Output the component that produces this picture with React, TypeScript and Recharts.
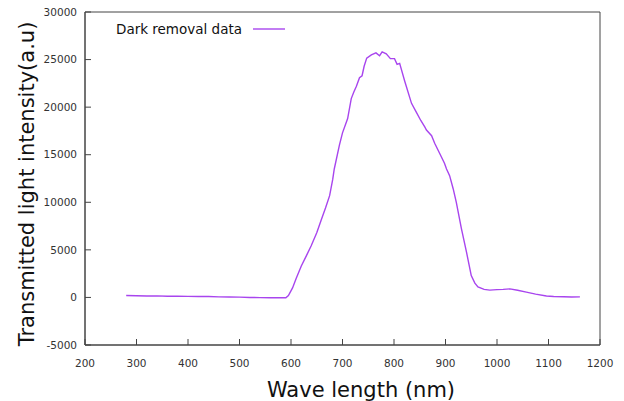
import { Legend, Line, LineChart, XAxis, YAxis } from "recharts"

const WAVELENGTHS = [
  280, 300, 320, 340, 360, 380, 400, 420, 440, 460, 480, 500, 520, 540, 560,
  575, 590, 595, 603, 610, 620, 630, 639, 650, 659, 667, 675, 681, 684, 694,
  700, 710, 717, 722, 727, 733, 738, 742, 747, 756, 765, 772, 777, 785, 793,
  801, 806, 811, 821, 834, 843, 852, 860, 863, 873, 879, 889, 898, 902, 908,
  915, 921, 931, 941, 950, 957, 963, 975, 986, 1000, 1012, 1025, 1040, 1057,
  1075, 1096, 1110, 1129, 1145, 1161,
]

const INTENSITY = [
  200, 180, 150, 160, 120, 130, 110, 90, 100, 60, 50, 30, 0, -20, -40,
  -30, -40, 200, 1000, 2000, 3300, 4400, 5400, 6800, 8200, 9400, 10700, 12400, 13500, 16000,
  17300, 18800, 20900, 21600, 22200, 23100, 23300, 24300, 25150, 25500, 25700, 25400, 25800, 25600, 25100,
  25100, 24500, 24600, 22700, 20400, 19500, 18600, 17900, 17600, 17000, 16200, 15100, 14100, 13500, 12800,
  11400, 10000, 7200, 4700, 2300, 1500, 1100, 850, 770, 820, 850, 900, 750, 560,
  350, 150, 100, 70, 50, 60,
]

const X_TICKS = [200, 300, 400, 500, 600, 700, 800, 900, 1000, 1100, 1200]
const Y_TICKS = [-5000, 0, 5000, 10000, 15000, 20000, 25000, 30000]

const SERIES_NAME = "Dark removal data"
const X_TITLE = "Wave length (nm)"
const Y_TITLE = "Transmitted light intensity(a.u)"

const data = WAVELENGTHS.map((w, i) => ({ wavelength: w, intensity: INTENSITY[i] }))

const tickFont = { fill: "#333", fontSize: 10.5, fontFamily: "DejaVu Sans" }
const titleStyle = { fill: "#111", fontSize: 21, fontFamily: "DejaVu Sans" }

const renderXTitle = () => (
  <text x={361} y={397} textAnchor='middle' style={titleStyle}>
    {X_TITLE}
  </text>
)

const renderYTitle = () => (
  <text
    x={34}
    y={184}
    textAnchor='middle'
    transform='rotate(-90 34 184)'
    style={titleStyle}
  >
    {Y_TITLE}
  </text>
)

const LegendBox = ({ payload }: any) => {
  const entry = payload && payload[0]
  if (!entry) return null
  return (
    <svg width={300} height={45}>
      <text
        x={242}
        y={34}
        textAnchor='end'
        style={{ fill: "#111", fontSize: 13.5, fontFamily: "DejaVu Sans" }}
      >
        {entry.value}
      </text>
      <line x1={253} x2={285} y1={29} y2={29} stroke={entry.color} strokeWidth={1.4} />
    </svg>
  )
}

const App = () => {
  return (
    <div style={{ position: "absolute", left: 0, top: 0, width: 624, height: 401, background: "#fff" }}>
      <LineChart
        width={624}
        height={401}
        data={data}
        margin={{ top: 11, right: 23, bottom: 26, left: 25 }}
      >
        <XAxis
          dataKey='wavelength'
          type='number'
          domain={[200, 1200]}
          ticks={X_TICKS}
          interval={0}
          tickSize={-6}
          tickMargin={21}
          stroke='#444'
          tick={tickFont}
          label={renderXTitle}
        />
        {/* thin frame edges: bottom/left as mirrored axes, top/right as 1px axes */}
        <XAxis
          xAxisId='bottomEdge'
          dataKey='wavelength'
          orientation='bottom'
          mirror
          type='number'
          domain={[200, 1200]}
          ticks={X_TICKS}
          height={1}
          stroke='#444'
          tick={false}
          tickLine={false}
        />
        <XAxis
          xAxisId='top'
          dataKey='wavelength'
          orientation='top'
          type='number'
          domain={[200, 1200]}
          ticks={X_TICKS}
          height={1}
          stroke='#444'
          tick={false}
          tickLine={false}
        />
        <YAxis
          type='number'
          domain={[-5000, 30000]}
          ticks={Y_TICKS}
          interval={0}
          tickSize={-6}
          tickMargin={14}
          stroke='#444'
          tick={tickFont}
          label={renderYTitle}
        />
        <YAxis
          yAxisId='leftEdge'
          orientation='left'
          mirror
          type='number'
          domain={[-5000, 30000]}
          ticks={Y_TICKS}
          width={1}
          stroke='#444'
          tick={false}
          tickLine={false}
        />
        <YAxis
          yAxisId='right'
          orientation='right'
          type='number'
          domain={[-5000, 30000]}
          ticks={Y_TICKS}
          width={1}
          stroke='#444'
          tick={false}
          tickLine={false}
        />
        <Legend
          layout='horizontal'
          verticalAlign='middle'
          align='center'
          content={<LegendBox />}
          wrapperStyle={{ position: "absolute", top: 0, left: 0, width: 300, height: 45 }}
        />
        <Line
          type='linear'
          dataKey='intensity'
          name={SERIES_NAME}
          stroke='#a845ee'
          strokeWidth={1.4}
          dot={false}
          isAnimationActive={false}
        />
      </LineChart>
    </div>
  )
}

export default App
